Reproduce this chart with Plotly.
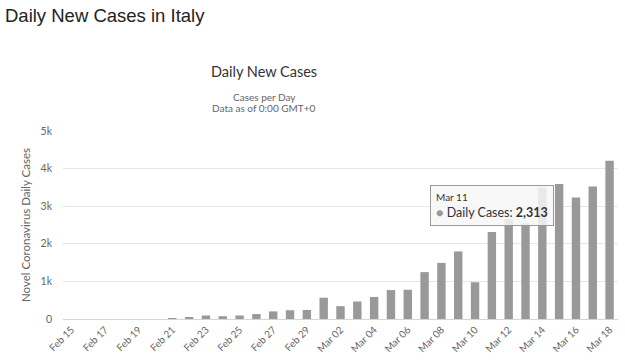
import plotly.graph_objects as go

dates = ["Feb 15", "Feb 16", "Feb 17", "Feb 18", "Feb 19", "Feb 20", "Feb 21", "Feb 22",
         "Feb 23", "Feb 24", "Feb 25", "Feb 26", "Feb 27", "Feb 28", "Feb 29",
         "Mar 01", "Mar 02", "Mar 03", "Mar 04", "Mar 05", "Mar 06", "Mar 07", "Mar 08",
         "Mar 09", "Mar 10", "Mar 11", "Mar 12", "Mar 13", "Mar 14", "Mar 15", "Mar 16",
         "Mar 17", "Mar 18"]
daily_cases = [0, 0, 0, 0, 0, 0, 17, 42,
               93, 74, 93, 131, 202, 233, 240,
               566, 342, 466, 587, 769, 778, 1247, 1492,
               1797, 977, 2313, 2651, 2547, 3497, 3590, 3233,
               3526, 4207]
tick_labels = dates[::2]
y_ticks = [0, 1000, 2000, 3000, 4000, 5000]
y_tick_text = ["0", "1k", "2k", "3k", "4k", "5k"]
hover_date = "Mar 11"
hover_value = daily_cases[dates.index(hover_date)]

W, H = 625, 364
L, R, T, B = 63, 7, 131, 45
pw = W - L - R
ph = H - T - B

def px(x):
    return (x - L) / pw

def py(y):
    return (H - B - y) / ph

fig = go.Figure()
fig.add_trace(go.Bar(x=dates, y=daily_cases, marker=dict(color="#999999", line=dict(width=0)),
                     name="Daily Cases"))

hum = "Lato, Open Sans, sans-serif"
fig.update_layout(
    width=W, height=H,
    margin=dict(l=L, r=R, t=T, b=B, autoexpand=False),
    paper_bgcolor="white", plot_bgcolor="white",
    bargap=0.5,
    showlegend=False,
    title=dict(text="Daily New Cases in Italy", x=5 / W, xanchor="left", xref="container",
               y=1 - 16 / H, yanchor="middle", yref="container",
               font=dict(family="Liberation Sans, Arial, sans-serif", size=18.5, color="#222222")),
    xaxis=dict(type="category", tickmode="array", tickvals=tick_labels, ticktext=tick_labels,
               tickangle=-45, tickfont=dict(family=hum, size=10, color="#666666"),
               showline=True, linecolor="#ccd6eb", linewidth=1, showgrid=False,
               ticks="", automargin=False),
    yaxis=dict(range=[0, 5000], tickmode="array", tickvals=y_ticks, ticktext=y_tick_text,
               tickfont=dict(family=hum, size=10.5, color="#666666"),
               gridcolor="#e6e6e6", gridwidth=1, zeroline=False, showline=False,
               ticks="", ticklabelstandoff=10, automargin=False),
    annotations=[
        dict(text="Daily New Cases", xref="paper", yref="paper", x=px(264), y=py(71),
             showarrow=False, xanchor="center", yanchor="middle",
             font=dict(family=hum, size=14.5, color="#333333")),
        dict(text="Cases per Day", xref="paper", yref="paper", x=px(264), y=py(97),
             showarrow=False, xanchor="center", yanchor="middle",
             font=dict(family=hum, size=10, color="#666666")),
        dict(text="Data as of 0:00 GMT+0", xref="paper", yref="paper", x=px(264), y=py(108),
             showarrow=False, xanchor="center", yanchor="middle",
             font=dict(family=hum, size=10, color="#666666")),
        dict(text="Novel Coronavirus Daily Cases", xref="paper", yref="paper", x=px(25), y=py(225),
             showarrow=False, textangle=-90, xanchor="center", yanchor="middle",
             font=dict(family=hum, size=11.5, color="#666666")),
        dict(text="<span style='font-size:10px'>" + hover_date + "</span><br>"
                  "<span style='color:#999999'>●</span> Daily Cases: <b>" + f"{hover_value:,}" + "</b>",
             xref="x", yref="y", x=hover_date, y=hover_value, yshift=6,
             showarrow=False, xanchor="center", yanchor="bottom", align="left",
             bgcolor="rgba(247,247,247,0.85)", bordercolor="#999999", borderwidth=1, borderpad=5,
             font=dict(family=hum, size=12.5, color="#333333")),
    ],
)

fig.write_html("out.html", config={"displayModeBar": False},
               post_script="document.body.style.margin='0';")
